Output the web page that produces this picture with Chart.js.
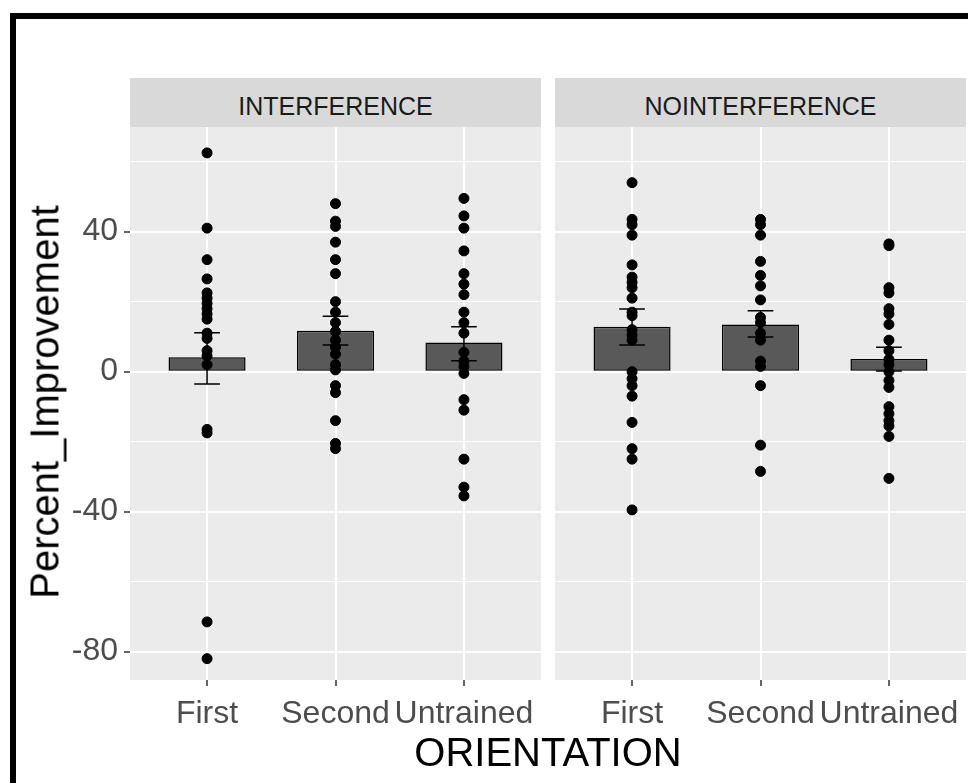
<!DOCTYPE html>
<html>
<head>
<meta charset="utf-8">
<script src="https://cdn.jsdelivr.net/npm/chart.js@4/dist/chart.umd.min.js"></script>
<style>
  html, body { margin: 0; padding: 0; background: #fff; width: 968px; height: 783px; overflow: hidden;
    font-family: "Liberation Sans", Arial, sans-serif; }
  #frame { position: absolute; left: 10px; top: 13px; width: 990px; height: 800px;
    border-left: 6px solid #000; border-top: 6px solid #000; }
  .strip { position: absolute; top: 78px; height: 49px; background: #d9d9d9; color: #1a1a1a;
    font-size: 25px; line-height: 56px; text-align: center; }
  canvas { position: absolute; top: 0; }
  #ytitle { position: absolute; left: 45px; top: 402px; transform: translate(-50%, -50%) rotate(-90deg);
    font-size: 40px; white-space: nowrap; color: #000; }
  #xtitle { position: absolute; left: 548px; top: 752px; transform: translate(-50%, -50%);
    font-size: 40px; white-space: nowrap; color: #000; }
</style>
</head>
<body>
<div id="frame"></div>
<div class="strip" id="strip0" style="left:130px;width:411px;"></div>
<div class="strip" id="strip1" style="left:555px;width:411px;"></div>
<canvas id="c0" width="547" height="783" style="left:0px;"></canvas>
<canvas id="c1" width="423" height="783" style="left:549px;"></canvas>
<div id="ytitle">Percent_Improvement</div>
<div id="xtitle">ORIENTATION</div>
<script>
// Facets and categories
const panels = ['INTERFERENCE', 'NOINTERFERENCE'];
const orientations = ['First', 'Second', 'Untrained'];
const yTicks = [-80, -60, -40, -20, 0, 20, 40, 60];

// Individual Percent_Improvement scores, INTERFERENCE
const interfFirst = [62.5, 41, 32, 26.5, 22.5, 21, 19.5, 18, 16.5, 15, 11, 9.5, 6, 4.5, 2, -16.5, -17.5, -71.5, -82];
const interfSecond = [48, 43, 41.5, 37, 32, 28, 20, 17, 14, 11.5, 9, 7, 5, 2, 0.5, -4, -6, -14, -20.5, -22];
const interfUntrained = [49.5, 44.5, 41, 34.5, 28, 25, 22, 17, 14, 11, 5.5, 3, 1.5, -0.5, -8, -11, -25, -33, -35.5];

// Individual Percent_Improvement scores, NOINTERFERENCE
const noIntFirst = [54, 43.5, 42, 39, 30.5, 27, 25.5, 24, 21, 17, 16, 12, 10.5, 9, 0, -2, -4, -7, -14.5, -22, -25, -39.5];
const noIntSecond = [43.5, 42, 39, 31.5, 27.5, 24.5, 20.5, 15.5, 14, 11, 9, 3, 1.5, -4, -21, -28.5];
const noIntUntrained = [36.5, 36, 24, 22.5, 18, 16.5, 13.5, 9, 6, 3.5, 2, 0, -2.5, -4.5, -10, -12, -14, -15.5, -18.5, -30.5];

// Group means with standard-error limits
const interfMean = [4.1, 11.7, 8.3];
const interfLower = [-3.5, 7.6, 3.1];
const interfUpper = [11.1, 15.8, 12.8];
const noIntMean = [12.8, 13.5, 3.6];
const noIntLower = [7.6, 9.9, 0.2];
const noIntUpper = [17.9, 17.4, 7.0];

panels.forEach((p, i) => { document.getElementById('strip' + i).textContent = p; });

const panelBackground = {
  id: 'panelBackground',
  beforeDraw(chart) {
    const { ctx, chartArea: a } = chart;
    ctx.save();
    ctx.fillStyle = '#ebebeb';
    ctx.fillRect(a.left, a.top, a.right - a.left, a.bottom - a.top);
    ctx.restore();
  }
};

const errorBars = {
  id: 'errorBars',
  afterDatasetsDraw(chart, args, opts) {
    const { ctx, scales: { x, y } } = chart;
    ctx.save();
    ctx.strokeStyle = '#000';
    ctx.lineWidth = 1.5;
    opts.lower.forEach((lo, i) => {
      const cx = x.getPixelForValue(i + 1);
      const half = x.getPixelForValue(i + 1 + opts.halfWidth) - cx;
      const yl = y.getPixelForValue(lo);
      const yh = y.getPixelForValue(opts.upper[i]);
      ctx.beginPath();
      ctx.moveTo(cx, yl); ctx.lineTo(cx, yh);
      ctx.moveTo(cx - half, yl); ctx.lineTo(cx + half, yl);
      ctx.moveTo(cx - half, yh); ctx.lineTo(cx + half, yh);
      ctx.stroke();
    });
    ctx.restore();
  }
};

const tickFont = { family: 'Liberation Sans, Arial, sans-serif', size: 32 };

function makePanel(id, groups, means, lower, upper, showYLabels) {
  const points = [];
  groups.forEach((vals, i) => vals.forEach(v => points.push({ x: i + 1, y: v })));
  const bars = means.map((m, i) => ({ x: i + 1, y: m }));
  return new Chart(document.getElementById(id), {
    type: 'bar',
    data: {
      datasets: [
        {
          type: 'line', data: points, showLine: false, order: 0,
          pointRadius: 5, pointBorderWidth: 1, pointBackgroundColor: '#000', pointBorderColor: '#000'
        },
        {
          type: 'bar', data: bars, order: 1,
          backgroundColor: '#595959', borderColor: '#000', borderWidth: 1.5, borderSkipped: false,
          categoryPercentage: 1, barPercentage: 0.6
        }
      ]
    },
    options: {
      responsive: false, animation: false, devicePixelRatio: 1,
      layout: { padding: { top: 127, bottom: 43, left: 0, right: 0 } },
      plugins: {
        legend: { display: false }, tooltip: { enabled: false }, title: { display: false },
        errorBars: { lower, upper, halfWidth: 0.1 }
      },
      scales: {
        x: {
          type: 'linear', min: 0.4, max: 3.6, offset: false,
          afterBuildTicks: s => { s.ticks = orientations.map((_, i) => ({ value: i + 1 })); },
          afterFit: s => { s.height = 60; s.paddingLeft = 0; s.paddingRight = 0; },
          ticks: { callback: v => orientations[v - 1], font: tickFont, color: '#4d4d4d', padding: 9, maxRotation: 0, autoSkip: false },
          grid: { offset: false, color: '#ffffff', lineWidth: 2, drawTicks: true, tickLength: 6, tickColor: '#333333', tickWidth: 1.5 },
          border: { display: false }
        },
        y: {
          min: -88.1, max: 69.9,
          afterBuildTicks: s => { s.ticks = yTicks.map(v => ({ value: v })); },
          afterFit: s => { s.width = showYLabels ? 130 : 0; s.paddingTop = 0; s.paddingBottom = 0; },
          ticks: {
            display: showYLabels,
            callback: v => (v % 40 === 0 ? String(v) : ''),
            font: tickFont, color: '#4d4d4d', padding: 6
          },
          grid: {
            color: '#ffffff',
            lineWidth: c => (c.tick && c.tick.value % 40 === 0 ? 2 : 1),
            drawTicks: showYLabels, tickLength: 6, tickWidth: 1.5,
            tickColor: c => (c.tick && c.tick.value % 40 === 0 ? '#333333' : 'rgba(0,0,0,0)')
          },
          border: { display: false }
        }
      }
    },
    plugins: [panelBackground, errorBars]
  });
}

makePanel('c0', [interfFirst, interfSecond, interfUntrained], interfMean, interfLower, interfUpper, true);
makePanel('c1', [noIntFirst, noIntSecond, noIntUntrained], noIntMean, noIntLower, noIntUpper, false);
</script>
</body>
</html>
